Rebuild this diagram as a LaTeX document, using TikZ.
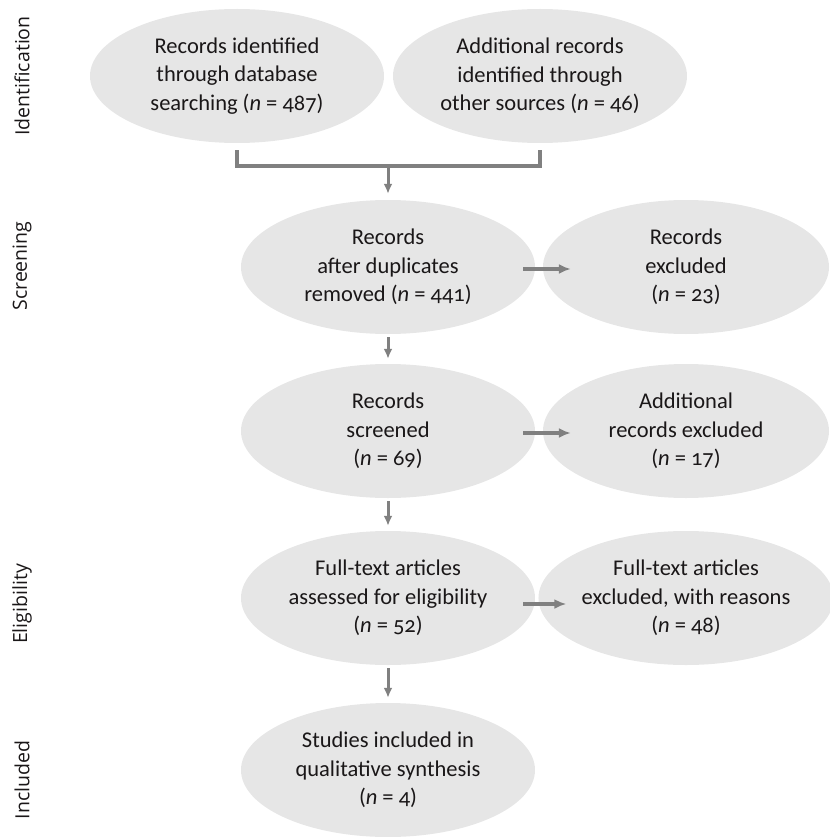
\documentclass[tikz,border=0pt]{standalone}
\usepackage{fontspec}
\setmainfont{Carlito}[Numbers=OldStyle]
\newfontfamily\sidefont{Open Sans}
\usetikzlibrary{shapes.geometric,arrows.meta}
\definecolor{bubblefill}{HTML}{E6E6E6}
\definecolor{arrowgray}{HTML}{808080}
\definecolor{ink}{HTML}{1A1718}

\begin{document}
\begin{tikzpicture}[x=1pt,y=-1pt]
\tikzset{ >={Latex[length=10pt,width=9pt]},
  bubble/.style={ellipse, fill=bubblefill, inner sep=0pt, minimum width=294pt,
    minimum height=134pt, align=center, text=ink,
    font=\fontsize{22.5}{28.5}\selectfont},
  sidebubble/.style={bubble, minimum width=286pt},
  stage/.style={rotate=90, text=ink, font=\sidefont\fontsize{19.5}{22}\selectfont},
  flow/.style={->, arrowgray, line width=3pt, shorten <=3pt, shorten >=5pt},
  sideflow/.style={-{Latex[length=12pt,width=10pt]}, arrowgray, line width=4pt},
}
\useasboundingbox (0,0) rectangle (829,837);

% stage labels
\node [stage] (Sid) at (22, 76) {Identification};
\node [stage] (Ssc) at (22,266) {Screening};
\node [stage] (Sel) at (22,604) {Eligibility};
\node [stage] (Sin) at (22,780) {Included};

% main column
\node [bubble] (A) at (237, 76) {Records identified\\through database\\searching (\textit{n} = 487)};
\node [bubble] (B) at (540, 76) {Additional records\\identified through\\other sources (\textit{n} = 46)};
\node [bubble] (C) at (388,267) {Records\\after duplicates\\removed (\textit{n} = 441)};
\node [bubble] (E) at (388,431) {Records\\screened\\(\textit{n} = 69)};
\node [bubble] (G) at (388,598) {Full-text articles\\assessed for eligibility\\(\textit{n} = 52)};
\node [bubble] (I) at (388,770) {Studies included in\\qualitative synthesis\\(\textit{n} = 4)};

% exclusions
\node [sidebubble] (D) at (686,267) {Records\\excluded\\(\textit{n} = 23)};
\node [sidebubble] (F) at (686,431) {Additional\\records excluded\\(\textit{n} = 17)};
\node [sidebubble] (H) at (686,598) {Full-text articles\\excluded, with reasons\\(\textit{n} = 48)};

% merge of the two sources
\coordinate (J) at (388,166);
\draw [arrowgray, line width=3.5pt] ([yshift=-7pt]A.south) |- (J) -| ([yshift=-7pt]B.south);
\draw [flow, shorten <=0pt, shorten >=6pt] (J) -- (C.north);

\draw [flow] (C) -- (E);
\draw [flow] (E) -- (G);
\draw [flow] (G) -- (I);

\draw [sideflow] ([xshift=-12pt,yshift=-2pt]C.east) -- ([xshift=28pt,yshift=-2pt]D.west);
\draw [sideflow] ([xshift=-12pt,yshift=-2pt]E.east) -- ([xshift=28pt,yshift=-2pt]F.west);
\draw [sideflow] ([xshift=-12pt,yshift=-6pt]G.east) -- ([xshift=28pt,yshift=-6pt]H.west);

\end{tikzpicture}
\end{document}
